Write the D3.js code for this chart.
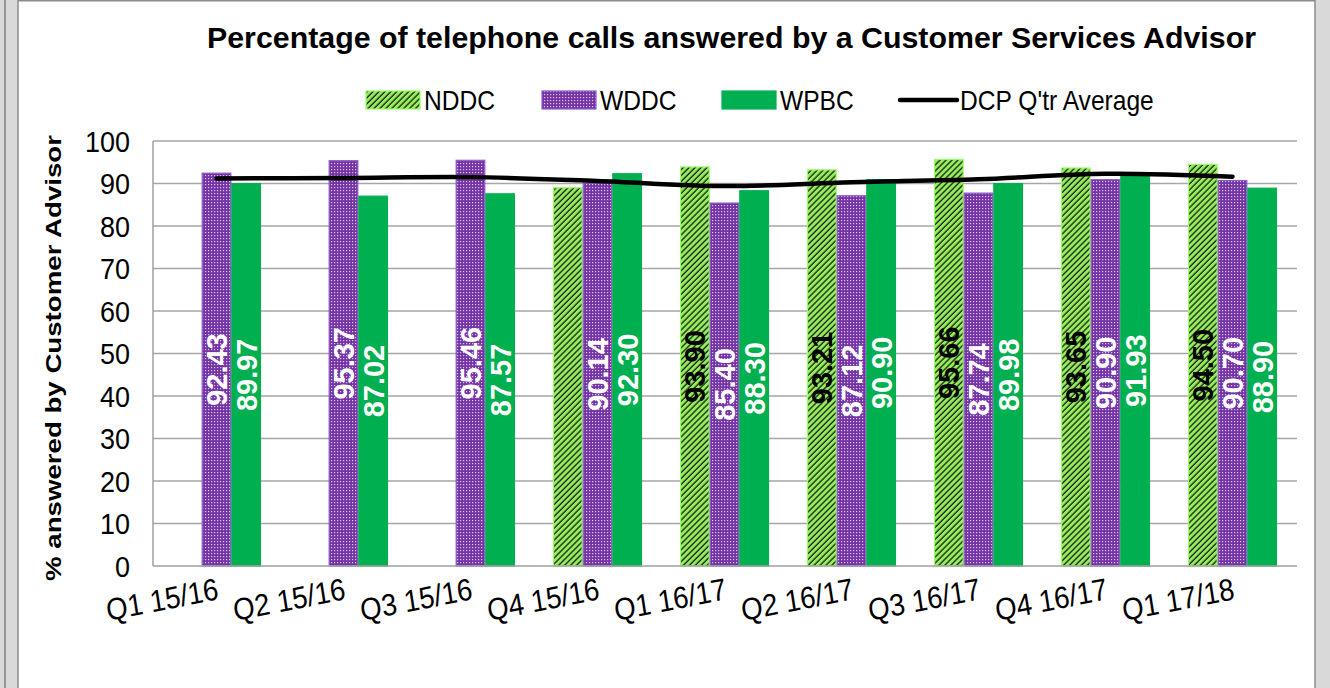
<!DOCTYPE html>
<html><head><meta charset="utf-8">
<script src="https://cdn.jsdelivr.net/npm/d3@7"></script>
<style>
html,body{margin:0;padding:0;background:#d9d9d9;}
svg{display:block;font-family:"Liberation Sans",Arial,sans-serif;}
</style></head>
<body>
<svg id="chart" width="1330" height="688"></svg>
<script>
// ---------- data ----------
const categories = ["Q1 15/16","Q2 15/16","Q3 15/16","Q4 15/16","Q1 16/17","Q2 16/17","Q3 16/17","Q4 16/17","Q1 17/18"];
const nddc = [null, null, null, 89.0, 93.90, 93.21, 95.66, 93.65, 94.50];
const nddcLabels = ["", "", "", "", "93.90", "93.21", "95.66", "93.65", "94.50"];
const wddc = [92.43, 95.37, 95.46, 90.14, 85.40, 87.12, 87.74, 90.90, 90.70];
const wddcLabels = ["92.43", "95.37", "95.46", "90.14", "85.40", "87.12", "87.74", "90.90", "90.70"];
const wpbc = [89.97, 87.02, 87.57, 92.30, 88.30, 90.90, 89.98, 91.93, 88.90];
const wpbcLabels = ["89.97", "87.02", "87.57", "92.30", "88.30", "90.90", "89.98", "91.93", "88.90"];
const dcpAverage = [91.2, 91.3, 91.5, 90.6, 89.4, 90.3, 91.0, 92.3, 91.6];
const seriesNames = ["NDDC", "WDDC", "WPBC"];
const lineName = "DCP Q'tr Average";
const yTicks = [0,10,20,30,40,50,60,70,80,90,100];
const titleText = "Percentage of telephone calls answered by a Customer Services Advisor";
const yTitle = "% answered by Customer Advisor";

// ---------- setup ----------
const svg = d3.select("#chart");
const defs = svg.append("defs");
const SY = 1.12; // vertical text stretch seen in the reference

// hatch pattern for NDDC
const ph = defs.append("pattern").attr("id","hatch").attr("patternUnits","userSpaceOnUse")
  .attr("width",4.2).attr("height",4.2).attr("patternTransform","rotate(45)");
ph.append("rect").attr("width",4.2).attr("height",4.2).attr("fill","#96ee5e");
ph.append("line").attr("x1",1).attr("y1",0).attr("x2",1).attr("y2",4.2)
  .attr("stroke","#1e2a14").attr("stroke-width",1.4);

// dotted pattern for WDDC
const pd = defs.append("pattern").attr("id","dots").attr("patternUnits","userSpaceOnUse")
  .attr("width",3).attr("height",3);
pd.append("rect").attr("width",3).attr("height",3).attr("fill","#7434a6");
pd.append("rect").attr("x",1).attr("y",1).attr("width",1.2).attr("height",1.2).attr("fill","#d8c4ec");

const fills = ["url(#hatch)","url(#dots)","#00b050"];
const strokes = ["#99ff66","#8d5cc6","#00b050"];
const labelColors = ["#000000","#ffffff","#ffffff"];

// frame
svg.append("line").attr("x1",5).attr("x2",5).attr("y1",0).attr("y2",688).attr("stroke","#7f7f7f").attr("stroke-width",1.5);
svg.append("rect").attr("x",18).attr("y",0.75).attr("width",1297).attr("height",700)
  .attr("fill","#ffffff").attr("stroke","#8c8c8c").attr("stroke-width",1.5);

const x0 = 153, x1 = 1296, yTop = 141, yBot = 566;

const x = d3.scaleBand().domain(categories).range([x0,x1]).paddingInner(0.3).paddingOuter(0.15);
const xs = d3.scaleBand().domain(seriesNames).range([0,x.bandwidth()]);
const y = d3.scaleLinear().domain([0,100]).range([yBot,yTop]);

// gridlines
svg.append("g").selectAll("line").data(yTicks.filter(d=>d>0)).join("line")
  .attr("x1",x0).attr("x2",x1+1).attr("y1",d=>y(d)).attr("y2",d=>y(d))
  .attr("stroke","#a6a6a6").attr("stroke-width",1.5);

// axis line
svg.append("line").attr("x1",x0).attr("x2",x0).attr("y1",yTop).attr("y2",yBot).attr("stroke","#a0a0a0").attr("stroke-width",1.5);

// y tick labels
svg.append("g").selectAll("text").data(yTicks).join("text")
  .attr("transform", d=>`translate(130,${y(d)}) scale(1,${SY})`)
  .attr("dy","0.36em").attr("text-anchor","end")
  .attr("font-size",27).attr("fill","#000").text(d=>d);

// bars
const seriesData = [nddc, wddc, wpbc];
const seriesLabels = [nddcLabels, wddcLabels, wpbcLabels];
seriesNames.forEach((name, si) => {
  const g = svg.append("g");
  const rows = categories.map((c,i)=>({c, v: seriesData[si][i], l: seriesLabels[si][i]})).filter(d=>d.v!=null);
  g.selectAll("rect").data(rows).join("rect")
    .attr("x", d=>x(d.c)+xs(name)+0.5)
    .attr("width", xs.bandwidth()-1)
    .attr("y", d=>y(d.v))
    .attr("height", d=>y(0)-y(d.v))
    .attr("fill", fills[si])
    .attr("stroke", strokes[si]).attr("stroke-width",1.2);
});

// baseline
svg.append("line").attr("x1",x0).attr("x2",x1+1).attr("y1",yBot).attr("y2",yBot).attr("stroke","#a0a0a0").attr("stroke-width",1.5);

// line series
const line = d3.line().x((d,i)=>x(categories[i])+x.bandwidth()/2).y(d=>y(d)).curve(d3.curveCatmullRom.alpha(0.5));
svg.append("path").datum(dcpAverage).attr("d",line).attr("fill","none")
  .attr("stroke","#000").attr("stroke-width",4.5).attr("stroke-linecap","round");

// data labels
seriesNames.forEach((name, si) => {
  const rows = categories.map((c,i)=>({c, v: seriesData[si][i], l: seriesLabels[si][i]})).filter(d=>d.v!=null && d.l);
  svg.append("g").selectAll("text").data(rows).join("text")
    .attr("transform", d=>`translate(${x(d.c)+xs(name)+xs.bandwidth()/2},${(y(d.v)+y(0))/2}) rotate(-90)`)
    .attr("text-anchor","middle").attr("dy","0.36em")
    .attr("font-size",29).attr("font-weight","bold").attr("fill",labelColors[si])
    .text(d=>d.l);
});

// x labels
svg.append("g").selectAll("text").data(categories).join("text")
  .attr("transform", d=>`translate(${x(d)+x.bandwidth()/2+3},599) scale(1,${SY}) rotate(-10)`)
  .attr("text-anchor","end").attr("font-size",27.5).attr("fill","#000").text(d=>d);

// title
svg.append("text").attr("x",731.5).attr("y",48).attr("text-anchor","middle")
  .attr("font-size",30).attr("font-weight","bold").attr("textLength",1049).attr("lengthAdjust","spacingAndGlyphs")
  .text(titleText);

// y title
svg.append("text").attr("transform","translate(61,358) rotate(-90)").attr("text-anchor","middle")
  .attr("font-size",22).attr("font-weight","bold").attr("textLength",446).attr("lengthAdjust","spacingAndGlyphs")
  .text(yTitle);

// legend
const legendItems = [
  {name: seriesNames[0], x: 366, type:"bar", si:0},
  {name: seriesNames[1], x: 542, type:"bar", si:1},
  {name: seriesNames[2], x: 722, type:"bar", si:2},
  {name: lineName, x: 900, type:"line"}
];
const lg = svg.append("g");
legendItems.forEach(it=>{
  if(it.type==="bar"){
    lg.append("rect").attr("x",it.x).attr("y",91).attr("width",54).attr("height",18)
      .attr("fill",fills[it.si]).attr("stroke",strokes[it.si]).attr("stroke-width",1.2);
  } else {
    lg.append("line").attr("x1",it.x).attr("x2",it.x+57).attr("y1",100).attr("y2",100)
      .attr("stroke","#000").attr("stroke-width",4.5).attr("stroke-linecap","round");
  }
  lg.append("text").attr("transform",`translate(${it.x+(it.type==="bar"?58:60)},100) scale(1,${SY})`)
    .attr("dy","0.36em").attr("font-size",24.6).attr("fill","#000").text(it.name);
});
</script>
</body></html>
